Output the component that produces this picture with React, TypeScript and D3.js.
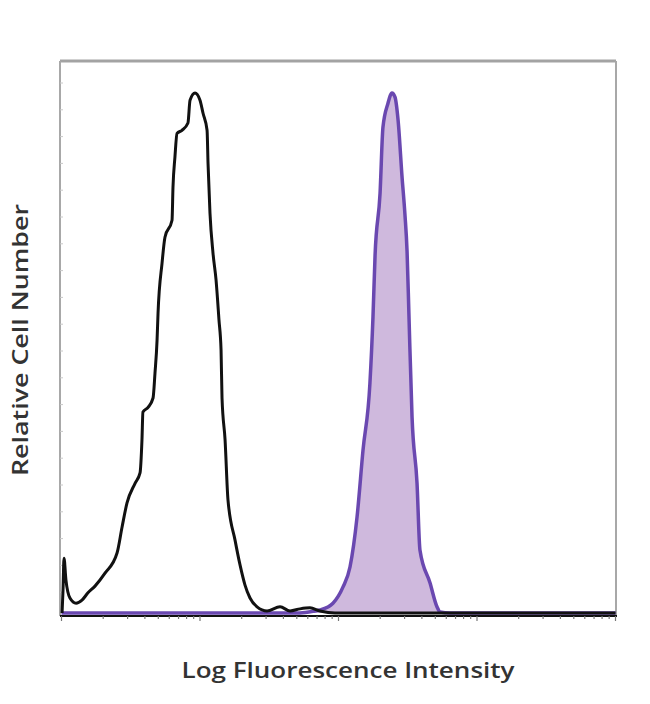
import React from "react";
import * as d3 from "d3";

// Black (unstained / isotype) histogram: x in log decades, y relative count
const blackX = [0.004, 0.011, 0.018, 0.032, 0.061, 0.105, 0.148, 0.191, 0.242, 0.314, 0.401, 0.437, 0.473, 0.531, 0.567, 0.581, 0.588, 0.625, 0.661, 0.675, 0.69, 0.697, 0.726, 0.747, 0.798, 0.805, 0.819, 0.834, 0.87, 0.913, 0.928, 0.964, 1.0, 1.022, 1.051, 1.058, 1.072, 1.094, 1.116, 1.137, 1.152, 1.159, 1.181, 1.202, 1.253, 1.289, 1.325, 1.361, 1.412, 1.484, 1.578, 1.65, 1.722, 1.794, 1.866, 1.975, 4.0];
const blackY = [0, 4.4, 10.6, 6.4, 2.9, 1.9, 2.5, 3.9, 5.2, 7.7, 11.6, 16.6, 21.3, 25.1, 27.1, 33.5, 38.9, 39.8, 41.6, 46.4, 52.8, 58.0, 67.7, 72.7, 76.0, 82.4, 88.2, 92.8, 93.4, 94.8, 99.2, 100.6, 99.2, 96.7, 93.4, 87.0, 77.4, 69.6, 64.4, 56.7, 50.9, 41.6, 33.5, 21.9, 14.1, 9.3, 5.4, 2.9, 1.2, 0.4, 1.2, 0.4, 0.8, 1.0, 0.4, 0, 0];

// Purple (stained) histogram
const purpleX = [0.0, 1.722, 1.83, 1.866, 1.96, 2.032, 2.083, 2.134, 2.177, 2.227, 2.249, 2.264, 2.3, 2.321, 2.357, 2.386, 2.408, 2.43, 2.459, 2.48, 2.495, 2.509, 2.531, 2.567, 2.588, 2.661, 2.711, 2.733, 2.805, 4.0];
const purpleY = [0, 0, 0.4, 0.6, 1.9, 5.0, 8.9, 18.6, 31.5, 44.5, 57.3, 69.2, 81.2, 94.0, 98.6, 100.6, 99.8, 95.4, 84.3, 77.0, 70.0, 57.3, 37.9, 25.1, 12.2, 5.8, 1.2, 0.2, 0, 0];

const decades = [0, 1, 2, 3, 4];
const xLabel = "Log Fluorescence Intensity";
const yLabel = "Relative Cell Number";

export default function App() {
  const W = 650, H = 704;
  const left = 60, right = 616, top = 61, bottom = 616;
  const x = d3.scaleLinear().domain([0, 4]).range([61.5, 615.5]);
  const y = d3.scaleLinear().domain([0, 107]).range([613, 60]);

  const black = blackX.map((v, i) => [v, blackY[i]] as [number, number]);
  const purple = purpleX.map((v, i) => [v, purpleY[i]] as [number, number]);

  const line = d3.line<[number, number]>().x(d => x(d[0])).y(d => y(d[1])).curve(d3.curveMonotoneX);
  const area = d3.area<[number, number]>().x(d => x(d[0])).y0(y(0)).y1(d => y(d[1])).curve(d3.curveMonotoneX);

  const minorTicks: { v: number; major: boolean }[] = [];
  decades.forEach(dd => {
    minorTicks.push({ v: dd, major: true });
    if (dd < 4) for (let k = 2; k <= 9; k++) minorTicks.push({ v: dd + Math.log10(k), major: false });
  });

  const leftTicks = d3.range(83, 616, 26.8);

  return (
    <div style={{ position: "absolute", left: 0, top: 0 }}>
      <svg width={W} height={H} style={{ display: "block", background: "#fff" }}>
        {/* frame */}
        <line x1={left} x2={right} y1={top} y2={top} stroke="#a3a3a3" strokeWidth={3} />
        <line x1={left} x2={left} y1={top} y2={bottom} stroke="#a8a8a8" strokeWidth={2} />
        <line x1={right} x2={right} y1={top} y2={bottom} stroke="#a8a8a8" strokeWidth={2} />
        {leftTicks.map((t, i) => (
          <line key={i} x1={left} x2={left + 3} y1={t} y2={t} stroke="#c8c8c8" strokeWidth={1} />
        ))}
        {/* purple filled histogram */}
        <path d={area(purple) || ""} fill="#cfb9dd" stroke="none" />
        <path d={line(purple) || ""} fill="none" stroke="#6a48b0" strokeWidth={3.5} strokeLinejoin="round" />
        {/* black histogram */}
        <path d={line(black) || ""} fill="none" stroke="#111" strokeWidth={3} strokeLinejoin="round" />
        {/* bottom axis */}
        <line x1={left} x2={right + 1} y1={bottom} y2={bottom} stroke="#111" strokeWidth={2} />
        {minorTicks.map((t, i) => (
          <line key={i} x1={x(t.v)} x2={x(t.v)} y1={bottom} y2={bottom + (t.major ? 5 : 3)} stroke="#777" strokeWidth={1.2} />
        ))}
        {/* labels */}
        <text x={348} y={678} textAnchor="middle" fontFamily="'Open Sans', sans-serif" fontWeight={600} fontSize={22} fill="#333" textLength={333} lengthAdjust="spacingAndGlyphs">{xLabel}</text>
        <text transform="translate(28,340) rotate(-90)" textAnchor="middle" fontFamily="'Open Sans', sans-serif" fontWeight={600} fontSize={22} fill="#333" textLength={272} lengthAdjust="spacingAndGlyphs">{yLabel}</text>
      </svg>
    </div>
  );
}
